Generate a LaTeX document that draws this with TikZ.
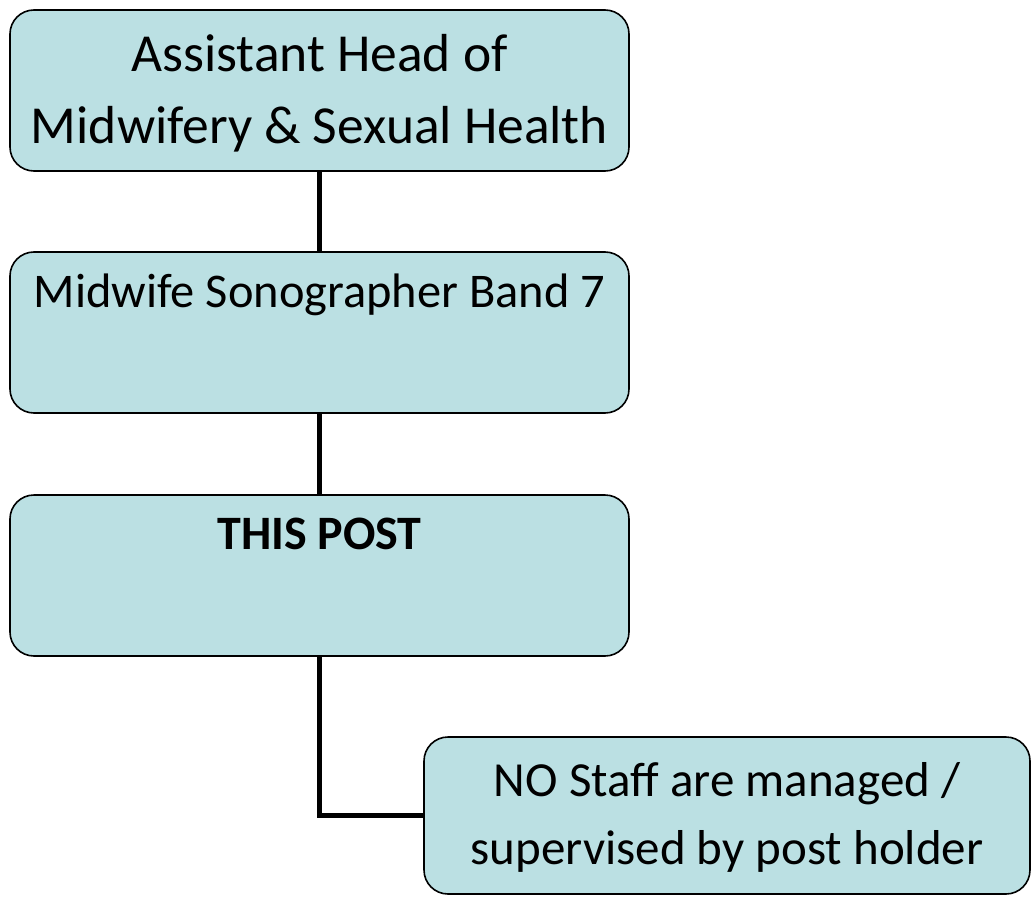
\documentclass[tikz,border=0pt]{standalone}
\usepackage{fontspec}
\setmainfont{Carlito}
\usepackage{tikz}
\usetikzlibrary{positioning}
\definecolor{postfill}{RGB}{187,224,227}

\begin{document}
\begin{tikzpicture}[x=1pt,y=-1pt]
\tikzset{
  post box/.style={draw,line width=1.6pt,fill=postfill,rounded corners=24pt,
    minimum width=619pt,minimum height=161pt,inner sep=0pt},
  staff box/.style={post box,minimum width=606pt,minimum height=157pt},
  post text/.style={inner sep=0pt,align=center,anchor=base},
  link/.style={draw,line width=5pt}
}
\useasboundingbox (0,0) rectangle (1032,896);
\node[post box] (ahm) at (319.5,90.5) {};
\node[post box] (sono) at (319.5,332.5) {};
\node[post box] (post) at (319.5,575.5) {};
\node[staff box] (staff) at (727,815.5) {};
% texts (base = last line)
\node[post text,font=\fontsize{53.5}{72}\selectfont] (ahm text) at ([yshift=-134pt]ahm.north) {Assistant Head of\\Midwifery \& Sexual Health};
\node[post text,font=\fontsize{48.4}{60}\selectfont] (sono text) at ([yshift=-56.5pt]sono.north) {Midwife Sonographer Band 7};
\node[post text,font=\fontsize{48}{60}\selectfont\bfseries] (post text) at ([yshift=-55.5pt]post.north) {THIS POST};
\node[post text,font=\fontsize{49}{68}\selectfont] (staff text) at ([yshift=-128pt]staff.north) {NO Staff are managed /\\supervised by post holder};
\path[link] (ahm) -- (sono);
\path[link] (sono) -- (post);
\path[link] (post.south) |- (staff.west);
\end{tikzpicture}
\end{document}
